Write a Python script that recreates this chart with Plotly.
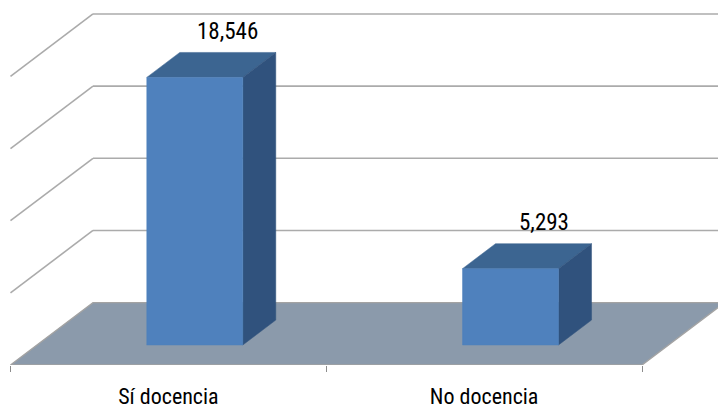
import plotly.graph_objects as go

# ---- data ----
categories = ["Sí docencia", "No docencia"]
values = [18546, 5293]
grid_values = [5000, 10000, 15000, 20000]
label_texts = ["18,546", "5,293"]

# ---- style / geometry constants ----
W, H = 718, 408
FONT = "Liberation Sans Narrow, Arial Narrow, Roboto Condensed, sans-serif"
FRONT = "#4F81BD"
TOP = "#3C6591"
SIDE = "#30527D"
FLOOR = "#8B9AAB"
GRID = "#ABABAB"

PX_PER_SLOT = 315.75      # pixels per category slot
PX_PER_UNIT = 0.01445     # pixels per value unit
X0_PX = 10.5              # pixel of front-left floor corner
FLOOR_BOTTOM_PX = 365.5
DEPTH_DX_PX, DEPTH_DY_PX = 82.5, 62.5
DX = DEPTH_DX_PX / PX_PER_SLOT
DY = DEPTH_DY_PX / PX_PER_UNIT
BAR_HALF = 0.152
D_FRONT, D_BACK = 0.32, 0.72
N = len(categories)


def proj(x, d, v):
    return x + d * DX, v + d * DY


def poly(points):
    xs, ys = zip(*[proj(*p) for p in points])
    return list(xs) + [xs[0]], list(ys) + [ys[0]]


fig = go.Figure()

# back wall gridlines
for gv in grid_values:
    xs, ys = zip(proj(0, 1, gv), proj(N + 0.05, 1, gv))
    fig.add_trace(go.Scatter(x=xs, y=ys, mode="lines",
                             line=dict(color=GRID, width=1.6), hoverinfo="skip"))
# side wall gridlines
for gv in grid_values:
    xs, ys = zip(proj(0, 1, gv), proj(0, 0, gv))
    fig.add_trace(go.Scatter(x=xs, y=ys, mode="lines",
                             line=dict(color=GRID, width=1.6), hoverinfo="skip"))

# floor
fx, fy = poly([(0, 0, 0), (N, 0, 0), (N, 1, 0), (0, 1, 0)])
fig.add_trace(go.Scatter(x=fx, y=fy, mode="lines", fill="toself", fillcolor=FLOOR,
                         line=dict(color="#A3A3A3", width=1.4), hoverinfo="skip"))

# bars
for i, v in enumerate(values):
    c = i + 0.5
    l, r = c - BAR_HALF, c + BAR_HALF
    faces = [
        ([(l, D_FRONT, v), (r, D_FRONT, v), (r, D_BACK, v), (l, D_BACK, v)], TOP),
        ([(r, D_FRONT, 0), (r, D_BACK, 0), (r, D_BACK, v), (r, D_FRONT, v)], SIDE),
        ([(l, D_FRONT, 0), (r, D_FRONT, 0), (r, D_FRONT, v), (l, D_FRONT, v)], FRONT),
    ]
    for pts, col in faces:
        px, py = poly(pts)
        fig.add_trace(go.Scatter(x=px, y=py, mode="lines", fill="toself", fillcolor=col,
                                 line=dict(color=col, width=0.5), hoverinfo="skip"))
    ax, ay = proj(c, D_BACK, v)
    fig.add_annotation(x=ax, y=ay, text=label_texts[i], showarrow=False,
                       yanchor="middle", yshift=21,
                       font=dict(family=FONT, size=23, color="#000000"))

x_range = [-X0_PX / PX_PER_SLOT, (W - X0_PX) / PX_PER_SLOT]
y_range = [0, FLOOR_BOTTOM_PX / PX_PER_UNIT]

fig.update_layout(
    width=W, height=H,
    margin=dict(l=0, r=0, t=0, b=H - FLOOR_BOTTOM_PX),
    paper_bgcolor="white", plot_bgcolor="white",
    showlegend=False,
    xaxis=dict(range=x_range, showgrid=False, zeroline=False, showline=False,
               tickvals=[i + 0.5 for i in range(N)], ticktext=categories,
               ticks="", ticklabelstandoff=16,
               tickfont=dict(family=FONT, size=22, color="#000000"),
               minor=dict(tickvals=list(range(N + 1)), ticks="outside", ticklen=6,
                          tickcolor="#8C8C8C", tickwidth=1.2, showgrid=False),
               fixedrange=True),
    yaxis=dict(range=y_range, visible=False, fixedrange=True),
)

fig.write_html("out.html")
